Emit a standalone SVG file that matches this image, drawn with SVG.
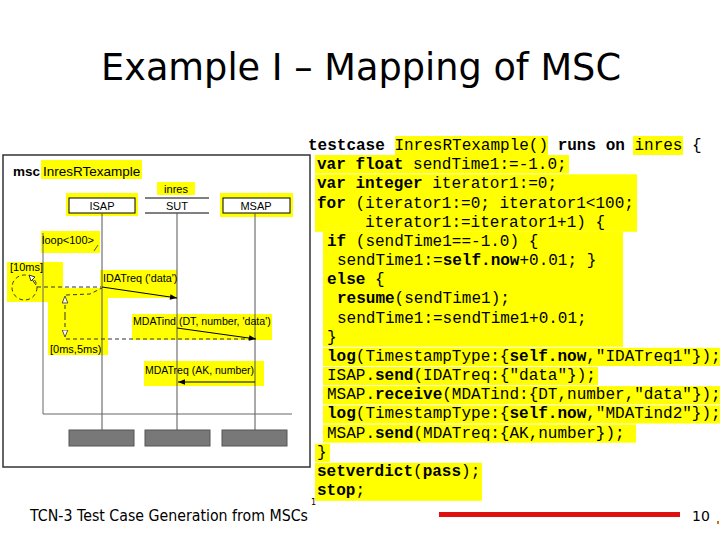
<svg xmlns="http://www.w3.org/2000/svg" width="720" height="540" viewBox="0 0 720 540">
<style>
.code{font-family:"Liberation Mono","Courier New",monospace;font-size:16px;fill:#000}
.b{font-weight:bold}
.hl{fill:#ffff00}
.msc{font-family:"Liberation Sans",Arial,sans-serif;fill:#000}
.life{stroke:#555;stroke-width:1;fill:none}
.head{fill:#fff;stroke:#000;stroke-width:1}
.endbox{fill:#787878;stroke:#555;stroke-width:1}
.msg{stroke:#000;stroke-width:1;fill:none}
.dash{stroke:#333;stroke-width:1;fill:none;stroke-dasharray:4,3}
</style>
<defs>
<marker id="ah" viewBox="0 0 10 10" refX="10" refY="5" markerWidth="9" markerHeight="7" orient="auto" markerUnits="userSpaceOnUse">
<path d="M0,1 L10,5 L0,9 z" fill="#000"/>
</marker>
<marker id="oh" viewBox="0 0 10 10" refX="10" refY="5" markerWidth="8" markerHeight="7" orient="auto" markerUnits="userSpaceOnUse">
<path d="M0,1 L10,5 L0,9 z" fill="#fff" stroke="#333" stroke-width="1.2"/>
</marker>
</defs>
<rect width="720" height="540" fill="#fff"/>

<text id="title" x="101" y="80" font-family="DejaVu Sans,Verdana,sans-serif" font-size="37" textLength="520" lengthAdjust="spacingAndGlyphs">Example I – Mapping of MSC</text>

<!-- MSC diagram -->
<g id="msc-frame">
<rect x="3" y="155" width="307" height="312" fill="none" stroke="#333" stroke-width="1.5"/>
<rect class="hl" x="41" y="160" width="101" height="19"/>
<text x="13" y="175.5" class="msc" font-size="13.5" font-weight="bold">msc</text>
<text x="43" y="175.5" class="msc" font-size="13.5">InresRTexample</text>
</g>

<!-- highlight regions behind timing annotations -->
<g id="highlights">
<rect class="hl" x="7" y="262" width="56" height="40"/>
<rect class="hl" x="48" y="288" width="60" height="67"/>
<rect class="hl" x="100" y="270" width="77" height="28"/>
<rect class="hl" x="132" y="314" width="140" height="26"/>
<rect class="hl" x="144" y="361" width="120" height="25"/>
<rect class="hl" x="41" y="231" width="59" height="22"/>
</g>

<g id="ISAP">
<rect class="hl" x="66" y="193" width="72" height="23"/>
<rect class="head" x="69" y="198" width="66" height="15"/>
<text x="102" y="209.5" class="msc" font-size="11" text-anchor="middle">ISAP</text>
</g>
<g id="SUT">
<rect class="hl" x="157" y="182" width="38" height="13"/>
<text x="176" y="192.5" class="msc" font-size="11" text-anchor="middle">inres</text>
<line x1="145" y1="198" x2="209" y2="198" stroke="#000"/>
<line x1="145" y1="213" x2="209" y2="213" stroke="#000"/>
<text x="177" y="209.5" class="msc" font-size="11" text-anchor="middle">SUT</text>
</g>
<g id="MSAP">
<rect class="hl" x="220" y="193" width="73" height="24"/>
<rect class="head" x="223" y="198" width="67" height="15"/>
<text x="256" y="209.5" class="msc" font-size="11" text-anchor="middle">MSAP</text>
</g>

<g id="lifelines">
<line class="life" x1="102" y1="213" x2="102" y2="430"/>
<line class="life" x1="177" y1="213" x2="177" y2="430"/>
<line class="life" x1="255" y1="213" x2="255" y2="430"/>
</g>

<g id="ends">
<rect class="endbox" x="69" y="430" width="65" height="16"/>
<rect class="endbox" x="145" y="430" width="65" height="16"/>
<rect class="endbox" x="222" y="430" width="65" height="16"/>
</g>

<g id="loop">
<polyline points="43,233 43,414 292,414" fill="none" stroke="#666" stroke-width="1"/>
<line x1="98" y1="245" x2="94" y2="251" stroke="#555" stroke-width="1"/>
<text x="42" y="244" class="msc" font-size="11">loop&lt;100&gt;</text>
</g>

<g id="timer">
<text x="10" y="271" class="msc" font-size="11">[10ms]</text>
<circle cx="24.5" cy="287.5" r="12.5" class="dash"/>
<line x1="31" y1="278" x2="36" y2="285" stroke="#333" stroke-width="1"/>
<polygon points="29,275 35,277 31,281" fill="#fff" stroke="#333" stroke-width="1"/>
<text x="50" y="353" class="msc" font-size="11">[0ms,5ms)</text>
</g>

<g id="connectors">
<line class="dash" x1="37" y1="287" x2="101" y2="287"/>
<polyline class="dash" points="66,295 90,294 102,288"/>
<line class="dash" x1="66" y1="339" x2="255" y2="339"/>
<line class="dash" x1="65" y1="316" x2="65" y2="296" marker-end="url(#oh)"/>
<line class="dash" x1="65" y1="316" x2="65" y2="337" marker-end="url(#oh)"/>
<line class="msg" x1="102" y1="287" x2="177" y2="298" marker-end="url(#ah)"/>
<line class="msg" x1="177" y1="328" x2="256" y2="339" marker-end="url(#ah)"/>
<line class="msg" x1="255" y1="382" x2="178" y2="382" marker-end="url(#ah)"/>
</g>

<g id="labels">
<text x="103" y="282" class="msc" font-size="10.8">IDATreq ('data')</text>
<text x="133" y="325" class="msc" font-size="10.6">MDATind (DT, number, 'data')</text>
<text x="145" y="374" class="msc" font-size="10.5">MDATreq (AK, number)</text>
</g>

<!-- code -->
<g id="code-highlights">
<rect class="hl" x="395" y="136" width="153" height="19"/>
<rect class="hl" x="633" y="136" width="50" height="19"/>
<rect class="hl" x="315" y="155" width="254" height="18.5"/>
<rect class="hl" x="315" y="174.3" width="322" height="57.5"/>
<rect class="hl" x="323" y="231.8" width="300" height="115"/>
<rect class="hl" x="323" y="347.8" width="397" height="18.2"/>
<rect class="hl" x="323" y="367" width="275" height="18.2"/>
<rect class="hl" x="323" y="386.1" width="397" height="18.2"/>
<rect class="hl" x="323" y="405.3" width="397" height="18.2"/>
<rect class="hl" x="323" y="424.5" width="313" height="18.2"/>
<rect class="hl" x="315" y="443.7" width="15" height="18.2"/>
<rect class="hl" x="315" y="462.8" width="167" height="38"/>
</g>
<g id="code">
<text class="code" x="308" y="150"><tspan class="b">testcase</tspan> InresRTexample() <tspan class="b">runs on</tspan> inres {</text>
<text class="code" x="317" y="169.2"><tspan class="b">var float</tspan> sendTime1:=-1.0;</text>
<text class="code" x="317" y="188.3"><tspan class="b">var integer</tspan> iterator1:=0;</text>
<text class="code" x="317" y="207.5"><tspan class="b">for</tspan> (iterator1:=0; iterator1&lt;100;</text>
<text class="code" x="365" y="226.7">iterator1:=iterator1+1) {</text>
<text class="code" x="327" y="245.9"><tspan class="b">if</tspan> (sendTime1==-1.0) {</text>
<text class="code" x="337" y="265">sendTime1:=<tspan class="b">self.now</tspan>+0.01; }</text>
<text class="code" x="327" y="284.2"><tspan class="b">else</tspan> {</text>
<text class="code" x="337" y="303.4"><tspan class="b">resume</tspan>(sendTime1);</text>
<text class="code" x="337" y="322.5">sendTime1:=sendTime1+0.01;</text>
<text class="code" x="327" y="341.7">}</text>
<text class="code" x="327" y="360.9"><tspan class="b">log</tspan>(TimestampType:{<tspan class="b">self.now</tspan>,"IDATreq1"});</text>
<text class="code" x="327" y="380">ISAP.<tspan class="b">send</tspan>(IDATreq:{"data"});</text>
<text class="code" x="327" y="399.2">MSAP.<tspan class="b">receive</tspan>(MDATind:{DT,number,"data"});</text>
<text class="code" x="327" y="418.4"><tspan class="b">log</tspan>(TimestampType:{<tspan class="b">self.now</tspan>,"MDATind2"});</text>
<text class="code" x="327" y="437.6">MSAP.<tspan class="b">send</tspan>(MDATreq:{AK,number});</text>
<text class="code" x="317" y="456.7">}</text>
<text class="code" x="317" y="475.9"><tspan class="b">setverdict</tspan>(<tspan class="b">pass</tspan>);</text>
<text class="code" x="317" y="495"><tspan class="b">stop</tspan>;</text>
</g>

<g id="footer">
<text x="30" y="521" font-family="DejaVu Sans,Tahoma,sans-serif" font-size="15" textLength="278" lengthAdjust="spacingAndGlyphs">TCN-3 Test Case Generation from MSCs</text>
<text x="311" y="505" font-family="DejaVu Sans,sans-serif" font-size="8">1</text>
<rect x="439" y="512" width="241" height="5" fill="#e01010"/>
<text x="692" y="521" font-family="DejaVu Sans,sans-serif" font-size="14">10</text>
<rect x="717" y="521" width="2" height="3" fill="#d07020"/>
</g>
</svg>
